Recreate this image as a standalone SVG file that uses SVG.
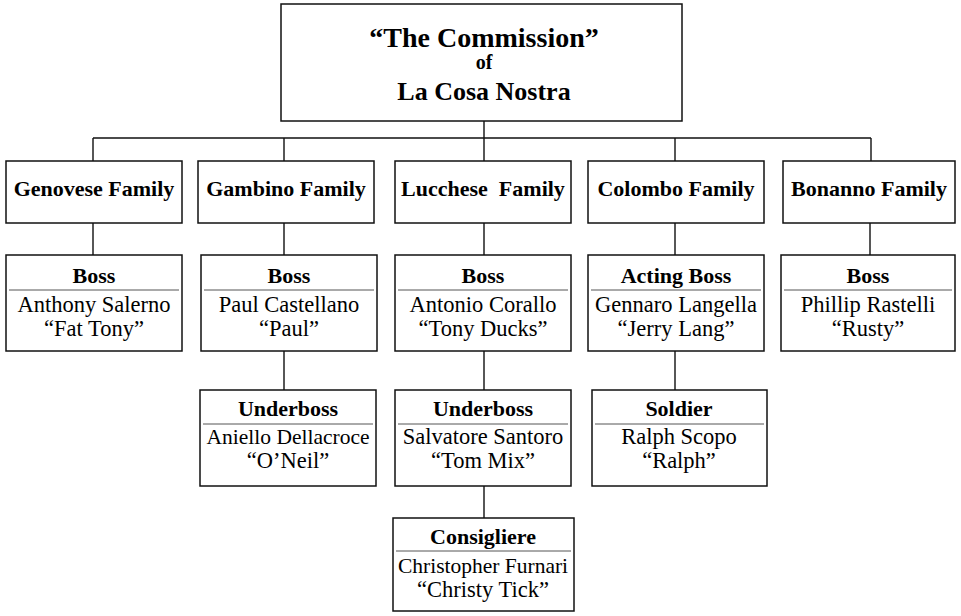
<svg xmlns="http://www.w3.org/2000/svg" width="961" height="616" viewBox="0 0 961 616">
<style>
.box{fill:#fff;stroke:#111;stroke-width:1.5}
.sep{stroke:#555;stroke-width:1}
.conn{stroke:#111;stroke-width:1.4;fill:none}
text{font-family:"Liberation Serif","Times New Roman",serif;fill:#000;text-anchor:middle}
.t1{font-size:28px;font-weight:bold}
.t2{font-size:26px;font-weight:bold}
.of{font-size:20px;font-weight:bold}
.fam{font-size:22px;font-weight:bold}
.h{font-size:22px;font-weight:bold}
.n{font-size:22.5px}
.ns{font-size:21.5px}
</style>
<rect width="961" height="616" fill="#fff"/>
<g id="connectors">
<path class="conn" d="M484 121V161M93 138H871M93 138V161M284 138V161M675 138V161M871 138V161"/>
<path class="conn" d="M93 223V255M284 223V255M484 223V255M675 223V255M870 223V255"/>
<path class="conn" d="M284 351V390M484 351V390M675 351V390M484 486V518"/>
</g>
<g id="commission">
<rect class="box" x="281" y="4" width="401" height="117"/>
<text class="t1" x="484" y="47">“The Commission”</text>
<text class="of" x="484" y="69">of</text>
<text class="t2" x="484" y="100">La Cosa Nostra</text>
</g>
<g id="genovese-family">
<rect class="box" x="6" y="161" width="176" height="62"/>
<text class="fam" x="94" y="196">Genovese Family</text>
</g>
<g id="gambino-family">
<rect class="box" x="198" y="161" width="176" height="62"/>
<text class="fam" x="286" y="196">Gambino Family</text>
</g>
<g id="lucchese-family">
<rect class="box" x="395" y="161" width="176" height="62"/>
<text class="fam" x="483" y="196" xml:space="preserve">Lucchese  Family</text>
</g>
<g id="colombo-family">
<rect class="box" x="588" y="161" width="176" height="62"/>
<text class="fam" x="676" y="196">Colombo Family</text>
</g>
<g id="bonanno-family">
<rect class="box" x="783" y="161" width="172" height="62"/>
<text class="fam" x="869" y="196">Bonanno Family</text>
</g>
<g id="genovese-boss">
<rect class="box" x="6" y="255" width="176" height="96"/>
<text class="h" x="94" y="283">Boss</text>
<line class="sep" x1="9" y1="290" x2="179" y2="290"/>
<text class="n" x="94" y="312">Anthony Salerno</text>
<text class="n" x="94" y="336">“Fat Tony”</text>
</g>
<g id="gambino-boss">
<rect class="box" x="201" y="255" width="176" height="96"/>
<text class="h" x="289" y="283">Boss</text>
<line class="sep" x1="204" y1="290" x2="374" y2="290"/>
<text class="n" x="289" y="312">Paul Castellano</text>
<text class="n" x="289" y="336">“Paul”</text>
</g>
<g id="lucchese-boss">
<rect class="box" x="395" y="255" width="176" height="96"/>
<text class="h" x="483" y="283">Boss</text>
<line class="sep" x1="398" y1="290" x2="568" y2="290"/>
<text class="n" x="483" y="312">Antonio Corallo</text>
<text class="n" x="483" y="336">“Tony Ducks”</text>
</g>
<g id="colombo-boss">
<rect class="box" x="588" y="255" width="176" height="96"/>
<text class="h" x="676" y="283">Acting Boss</text>
<line class="sep" x1="591" y1="290" x2="761" y2="290"/>
<text class="n" x="676" y="312">Gennaro Langella</text>
<text class="n" x="676" y="336">“Jerry Lang”</text>
</g>
<g id="bonanno-boss">
<rect class="box" x="781" y="255" width="174" height="96"/>
<text class="h" x="868" y="283">Boss</text>
<line class="sep" x1="784" y1="290" x2="952" y2="290"/>
<text class="n" x="868" y="312">Phillip Rastelli</text>
<text class="n" x="868" y="336">“Rusty”</text>
</g>
<g id="gambino-underboss">
<rect class="box" x="200" y="390" width="176" height="96"/>
<text class="h" x="288" y="416">Underboss</text>
<line class="sep" x1="203" y1="424" x2="373" y2="424"/>
<text class="ns" x="288" y="444">Aniello Dellacroce</text>
<text class="n" x="288" y="468">“O’Neil”</text>
</g>
<g id="lucchese-underboss">
<rect class="box" x="395" y="390" width="176" height="96"/>
<text class="h" x="483" y="416">Underboss</text>
<line class="sep" x1="398" y1="424" x2="568" y2="424"/>
<text class="n" x="483" y="444">Salvatore Santoro</text>
<text class="n" x="483" y="468">“Tom Mix”</text>
</g>
<g id="colombo-soldier">
<rect class="box" x="592" y="390" width="175" height="96"/>
<text class="h" x="679" y="416">Soldier</text>
<line class="sep" x1="595" y1="424" x2="764" y2="424"/>
<text class="n" x="679" y="444">Ralph Scopo</text>
<text class="n" x="679" y="468">“Ralph”</text>
</g>
<g id="lucchese-consigliere">
<rect class="box" x="393" y="518" width="181" height="93"/>
<text class="h" x="483" y="544">Consigliere</text>
<line class="sep" x1="396" y1="551" x2="571" y2="551"/>
<text class="ns" x="483" y="573">Christopher Furnari</text>
<text class="n" x="483" y="597">“Christy Tick”</text>
</g>
</svg>
